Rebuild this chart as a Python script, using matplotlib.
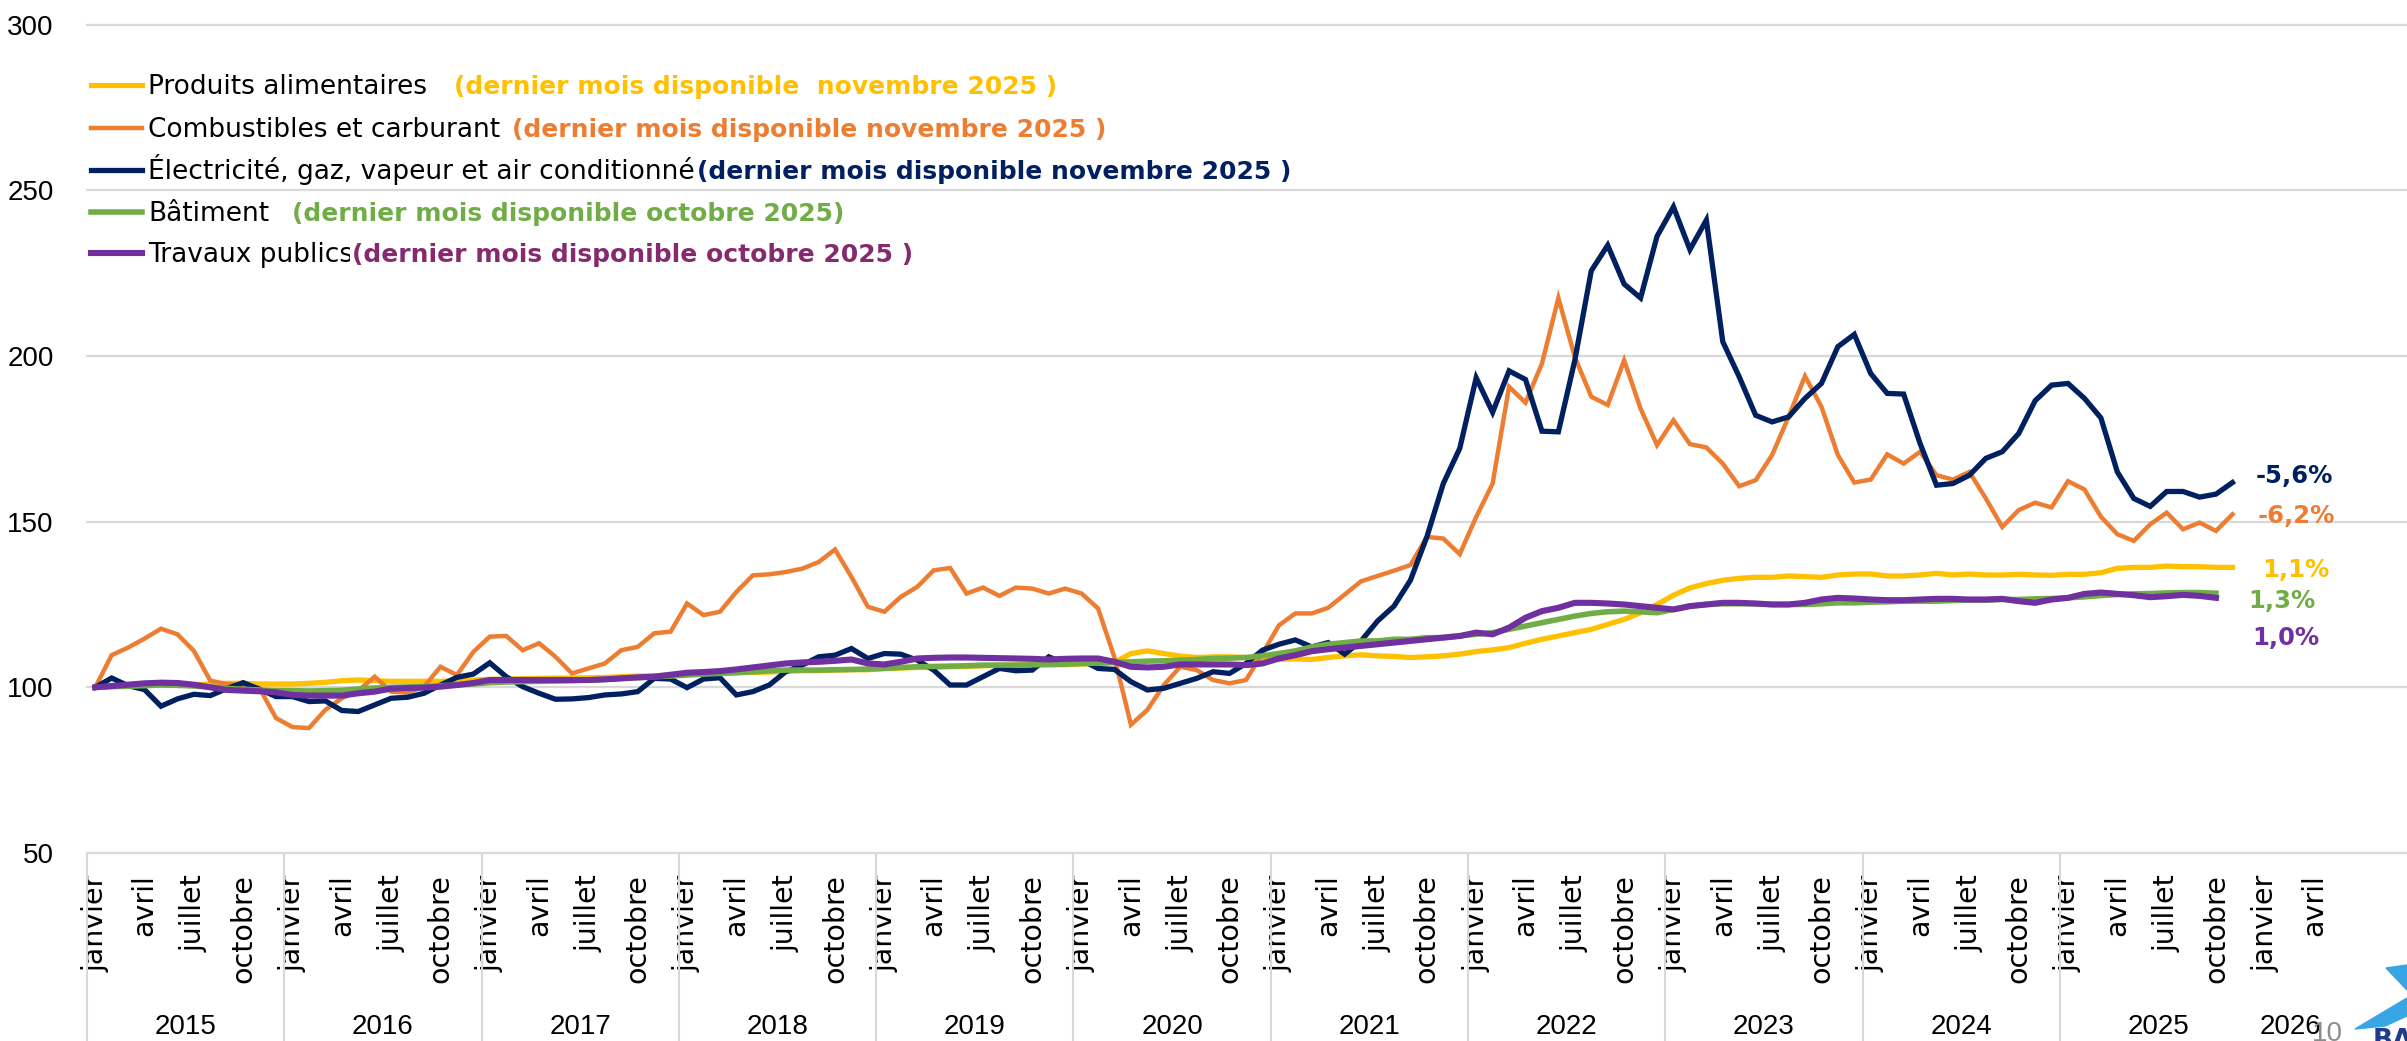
import numpy as np
import matplotlib
matplotlib.use("Agg")
import matplotlib.pyplot as plt
import matplotlib.transforms as mtransforms
from matplotlib.lines import Line2D
from matplotlib.patches import Polygon

plt.rcParams['font.family'] = ['DejaVu Sans']

W, H = 2407, 1041  # output size in pixels

# indices mensuels, base 100 = janvier 2015
alimentaires = [
    100, 100.3, 100.5, 100.7, 100.8, 100.8, 100.8, 101.0, 101.2, 101.2, 101.0, 101.0,
    101.0, 101.2, 101.5, 102.0, 102.2, 102.0, 101.8, 101.8, 101.8, 101.8, 102.0, 102.2,
    102.4, 102.5, 102.6, 102.7, 102.8, 102.8, 102.9, 103.0, 103.2, 103.4, 103.5, 103.7,
    104.0, 104.2, 104.3, 104.5, 104.5, 104.6, 104.8, 105.0, 105.0, 105.2, 105.3, 105.3,
    105.7, 105.8, 106.0, 106.0, 106.2, 106.3, 106.5, 106.6, 106.7, 106.8, 106.8, 106.8,
    107.0, 107.2, 107.5, 110.2, 111.0, 110.2, 109.4, 109.0, 109.2, 109.2, 109.0, 108.6,
    108.4, 108.6, 108.4, 109.0, 109.5, 109.8, 109.5, 109.3, 109.0, 109.2, 109.5, 110.0,
    110.8, 111.3, 112.0, 113.3, 114.5, 115.5, 116.5, 117.5, 119.0, 120.5, 122.5, 125.0,
    127.8, 130.0, 131.3, 132.3, 132.9, 133.2, 133.2, 133.6, 133.4, 133.2, 133.9, 134.2,
    134.2, 133.6, 133.6, 133.9, 134.4, 133.9, 134.2, 133.9, 133.9, 134.1, 133.9, 133.8,
    134.1, 134.1, 134.6, 135.9, 136.2, 136.2, 136.6, 136.4, 136.4, 136.2, 136.2,
]
combustibles = [
    100, 109.7, 112.0, 114.7, 117.7, 116.0, 111.0, 102.0, 101.0, 100.7, 99.7, 90.7,
    88.0, 87.7, 93.2, 96.7, 99.0, 103.2, 98.7, 98.4, 100.2, 106.2, 103.7, 110.7,
    115.3, 115.5, 111.2, 113.3, 109.2, 104.2, 105.7, 107.2, 111.2, 112.2, 116.3, 116.8,
    125.3, 121.8, 122.8, 128.8, 133.8, 134.1, 134.8, 135.8, 137.8, 141.6, 133.3, 124.3,
    122.8, 127.3, 130.3, 135.3, 136.0, 128.3, 130.1, 127.6, 130.1, 129.8, 128.3, 129.8,
    128.3, 123.8, 109.0, 88.7, 93.2, 100.7, 106.2, 105.2, 102.2, 101.2, 102.2, 110.2,
    118.7, 122.3, 122.3, 124.0, 128.0, 132.0, 133.6, 135.2, 136.9, 145.4, 144.9, 140.2,
    151.4, 161.5, 190.7, 185.9, 197.7, 217.5, 199.7, 187.7, 185.2, 198.7, 184.1, 173.1,
    180.6, 173.4, 172.4, 167.5, 160.7, 162.5, 170.1, 181.6, 193.9, 184.7, 170.1, 161.8,
    162.7, 170.3, 167.5, 171.1, 164.0, 162.7, 165.0, 157.0, 148.4, 153.5, 155.7, 154.3,
    162.2, 159.7, 151.5, 146.2, 144.2, 149.2, 152.7, 147.7, 149.7, 147.2, 152.2,
]
electricite = [
    100, 102.8, 100.5, 99.3, 94.3, 96.5, 97.9, 97.5, 99.6, 101.4, 99.4, 97.2,
    97.2, 95.7, 95.9, 93.0, 92.7, 94.7, 96.7, 97.0, 98.2, 100.7, 103.0, 104.0,
    107.4, 103.2, 100.2, 98.2, 96.4, 96.5, 96.9, 97.7, 98.0, 98.7, 102.7, 102.5,
    99.9, 102.5, 102.9, 97.7, 98.7, 100.7, 104.7, 106.7, 109.2, 109.7, 111.7, 108.7,
    110.2, 110.0, 108.2, 105.2, 100.7, 100.7, 103.2, 105.7, 105.0, 105.2, 109.2, 107.2,
    108.2, 105.7, 105.4, 101.7, 99.2, 99.7, 101.2, 102.7, 104.7, 104.2, 107.2, 111.2,
    113.0, 114.3, 112.2, 113.5, 110.0, 114.0, 120.0, 124.5, 132.3, 145.4, 161.5, 172.1,
    193.4, 183.0, 195.5, 192.9, 177.3, 177.1, 198.7, 225.7, 233.4, 221.7, 217.5, 236.1,
    245.0, 232.1, 241.0, 204.3, 193.7, 182.1, 180.1, 181.6, 187.2, 191.7, 202.8, 206.5,
    194.7, 188.7, 188.5, 173.6, 161.0, 161.5, 164.0, 169.1, 171.1, 176.6, 186.5, 191.2,
    191.7, 187.2, 181.3, 165.0, 157.0, 154.6, 159.1, 159.1, 157.4, 158.3, 161.8,
]
batiment = [
    100, 100.2, 100.3, 100.5, 100.7, 100.6, 100.4, 100.1, 99.7, 99.4, 99.2, 99.0,
    99.0, 98.9, 99.0, 99.1, 99.5, 99.8, 100.0, 100.1, 100.2, 100.5, 100.7, 101.0,
    101.4, 101.6, 101.7, 101.8, 101.9, 102.0, 102.2, 102.4, 102.7, 102.9, 103.2, 103.4,
    103.7, 104.0, 104.2, 104.4, 104.7, 105.0, 105.2, 105.2, 105.2, 105.3, 105.4, 105.5,
    105.7, 106.0, 106.2, 106.3, 106.4, 106.5, 106.7, 106.7, 106.7, 106.8, 106.9, 107.0,
    107.2, 107.3, 107.5, 107.7, 107.9, 108.0, 108.2, 108.4, 108.7, 108.8, 109.0, 109.5,
    110.2, 111.0, 112.2, 113.0, 113.5, 114.0, 114.0, 114.5, 114.5, 115.0, 115.0, 115.5,
    116.0, 116.5, 117.5, 118.5, 119.5, 120.5, 121.5, 122.3, 122.8, 123.0, 122.8, 122.5,
    123.5, 124.5, 125.0, 125.2, 125.2, 125.2, 125.0, 125.0, 125.0, 125.2, 125.5, 125.5,
    125.7, 125.8, 126.0, 126.0, 126.0, 126.2, 126.3, 126.3, 126.5, 126.5, 126.7, 126.8,
    127.0, 127.3, 127.7, 128.0, 128.2, 128.3, 128.5, 128.6, 128.6, 128.4,
]
travaux = [
    100, 100.4, 100.8, 101.2, 101.4, 101.3, 100.8, 100.0, 99.2, 99.0, 98.8, 98.5,
    97.7, 97.5, 97.5, 97.5, 98.2, 98.7, 99.6, 99.8, 99.9, 100.2, 100.7, 101.3,
    102.2, 102.2, 102.2, 102.2, 102.2, 102.2, 102.2, 102.4, 102.7, 103.0, 103.2, 103.8,
    104.4, 104.6, 104.9, 105.4, 106.0, 106.6, 107.2, 107.5, 107.7, 108.0, 108.4, 107.2,
    106.9, 107.7, 108.7, 108.9, 109.0, 109.0, 108.9, 108.8, 108.7, 108.6, 108.4, 108.6,
    108.7, 108.7, 107.7, 106.2, 106.0, 106.2, 106.9, 106.9, 106.9, 106.9, 106.7, 107.2,
    108.7, 109.7, 110.9, 111.5, 112.0, 112.5, 113.0, 113.5, 114.0, 114.5, 115.0, 115.5,
    116.5, 116.0, 118.0, 121.0, 123.0, 124.0, 125.5, 125.5, 125.3, 125.0, 124.5, 124.0,
    123.5, 124.5, 125.0, 125.5, 125.5, 125.3, 125.0, 125.0, 125.5, 126.5, 127.0, 126.8,
    126.5, 126.3, 126.3, 126.5, 126.7, 126.7, 126.5, 126.5, 126.7, 126.0, 125.5, 126.5,
    127.0, 128.2, 128.6, 128.2, 127.8, 127.2, 127.5, 127.9, 127.6, 127.0,
]

noms = ['Produits alimentaires', 'Combustibles et carburant',
        'Électricité, gaz, vapeur et air conditionné', 'Bâtiment', 'Travaux publics']
dernier_mois = ['(dernier mois disponible  novembre 2025 )',
                '(dernier mois disponible novembre 2025 )',
                '(dernier mois disponible novembre 2025 )',
                '(dernier mois disponible octobre 2025)',
                '(dernier mois disponible octobre 2025 )']
evolutions = ['1,1%', '-6,2%', '-5,6%', '1,3%', '1,0%']
mois_labels = ['janvier', 'avril', 'juillet', 'octobre']
annees = list(range(2015, 2027))
y_ticks = [50, 100, 150, 200, 250, 300]
n_mois = 136  # janvier 2015 -> avril 2026

series = [alimentaires, combustibles, electricite, batiment, travaux]
couleurs = ['#FFC000', '#ED7D31', '#002060', '#70AD47', '#7030A0']
couleurs_texte = ['#FFC000', '#ED7D31', '#002060', '#70AD47', '#862A70']
epaisseurs = [3.8, 3.2, 3.8, 4.0, 4.4]


def fx(px):
    return px / W


def fy(py):
    return 1 - py / H


fig = plt.figure(figsize=(W / 100, H / 100), dpi=100)
ax = fig.add_axes([fx(87), (H - 853) / H, (W - 87) / W, (853 - 24.6) / H])
px_mois = 16.44
ax.set_xlim(-0.5, -0.5 + (W - 87) / px_mois)
ax.set_ylim(50, 300)
for s in ax.spines.values():
    s.set_visible(False)

for v in y_ticks:
    ax.axhline(v, color='#d9d9d9', lw=1.6, zorder=0, clip_on=False)

for vals, c, lw in zip(series, couleurs, epaisseurs):
    ax.plot(np.arange(len(vals)), vals, color=c, lw=lw, solid_joinstyle='miter')

# axe des ordonnees
ax.set_yticks(y_ticks)
ax.tick_params(axis='y', length=0, pad=24, labelsize=20,
               labelfontfamily='Liberation Sans')

# axe des mois
ticks = list(range(0, n_mois, 3))
ax.set_xticks(ticks)
ax.set_xticklabels([mois_labels[(t // 3) % 4] for t in ticks], rotation=90,
                   fontsize=20.5, va='top', ha='center')
ax.tick_params(axis='x', length=0, pad=15.5)

# annees + separateurs
trans = mtransforms.blended_transform_factory(ax.transData, ax.transAxes)
y_bas = -(H - 853) / (853 - 24.6)
for i, an in enumerate(annees):
    debut = 12 * i
    fin = min(12 * i + 11, n_mois - 1)
    ax.text((debut + fin) / 2, -(1027 - 853) / (853 - 24.6), str(an), transform=trans,
            ha='center', va='center', fontsize=20, family='Liberation Sans')
    if an < 2026:
        ax.add_line(Line2D([debut - 0.5] * 2, [0, y_bas], transform=trans,
                           color='#d9d9d9', lw=1.5, clip_on=False))

# legende
lignes_y = [85, 128, 170, 212, 253]
x_paren = [454, 512, 697, 292, 352]
for i in range(5):
    ry = lignes_y[i]
    fig.add_artist(Line2D([fx(91), fx(142)], [fy(ry)] * 2, color=couleurs[i], lw=epaisseurs[i]))
    fig.text(fx(148), fy(ry + 8.7), noms[i], fontsize=19, va='baseline', color='black')
    fig.text(fx(x_paren[i]), fy(ry + 8.7), dernier_mois[i], fontsize=18, va='baseline',
             weight='bold', color=couleurs_texte[i],
             bbox=dict(facecolor='white', edgecolor='none', pad=1.5))

# glissements annuels
lab_pos = [(2262, 577), (2258, 523), (2256, 483), (2248, 608), (2252, 645)]
for (px, py), txt, c in zip(lab_pos, evolutions, couleurs):
    fig.text(fx(px), fy(py), txt, color=c, fontsize=17.5, weight='bold', va='baseline')

# numero de page et logo (coin bas droit)
fig.text(fx(2312), fy(1041), '10', color='#8c8c8c', fontsize=20,
         family='Liberation Sans', va='baseline')
fig.add_artist(Polygon([(fx(2386), fy(968)), (fx(2407), fy(965)), (fx(2407), fy(990))],
                       closed=True, color='#38A6E4', transform=fig.transFigure))
fig.add_artist(Polygon([(fx(2355), fy(1029)), (fx(2407), fy(998)), (fx(2407), fy(1016)),
                        (fx(2385), fy(1026))],
                       closed=True, color='#38A6E4', transform=fig.transFigure))
fig.text(fx(2373), fy(1048), 'BA', color='#1F3C8C', fontsize=19, weight='bold', va='baseline')

fig.savefig('out.png', dpi=100)
